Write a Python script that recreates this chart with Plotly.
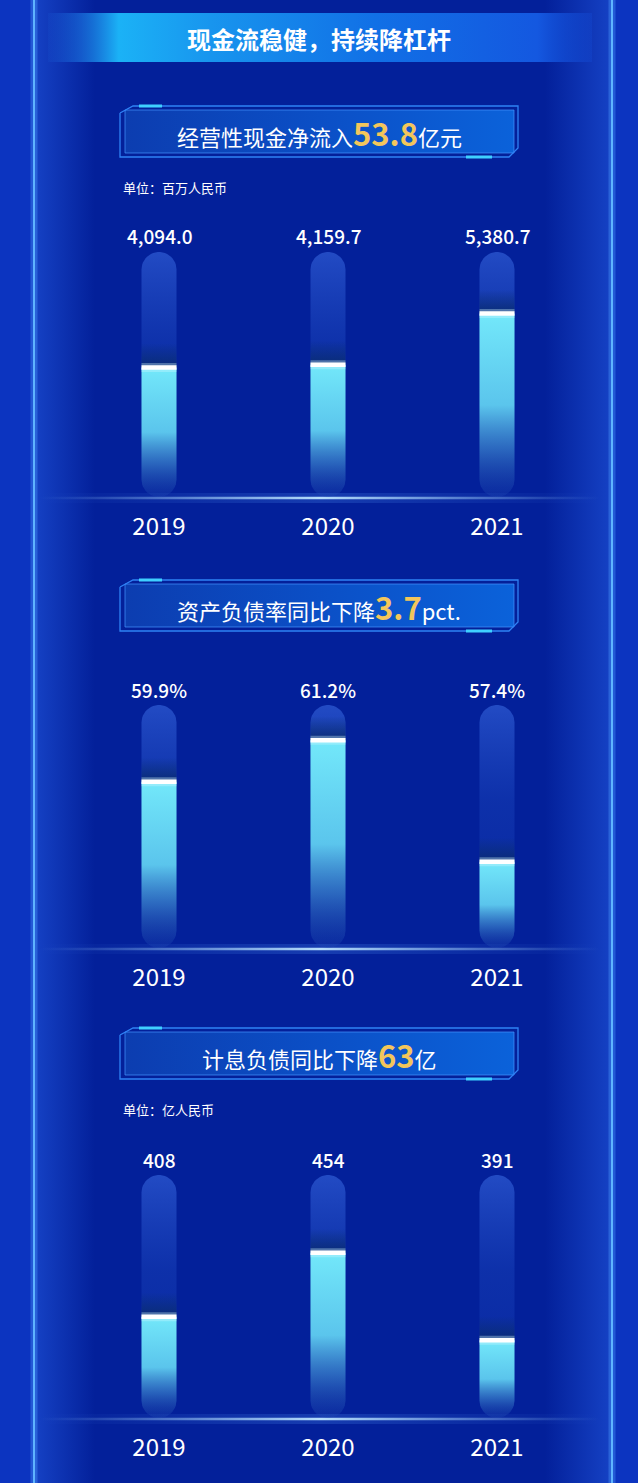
import numpy as np
import plotly.graph_objects as go

W, H = 638, 1483
FONT = "Noto Sans CJK SC"

# ---- data ----
years = ["2019", "2020", "2021"]
cash_flow = [4094.0, 4159.7, 5380.7]      # 百万人民币
debt_ratio = [59.9, 61.2, 57.4]           # %
interest_debt = [408, 454, 391]           # 亿人民币

title_text = "现金流稳健，持续降杠杆"
head_pre = ["经营性现金净流入", "资产负债率同比下降", "计息负债同比下降"]
head_num = ["53.8", "3.7", "63"]
head_post = ["亿元", "pct.", "亿"]
unit_text = ["单位：百万人民币", None, "单位：亿人民币"]

# ---- layout (pixels from top) ----
BAR_X0, BAR_STEP, BAR_HW = 159, 169, 17.5
bar_top = [252, 705, 1175]
bar_bot = [497, 948, 1418]
head_top = [106, 580, 1028]
head_bot = [157, 631, 1079]
unit_y = [187, None, 1109]
y_ranges = [(1000, 6850), (54.7, 62.3), (335, 510)]

GOLD = "#f3c65b"
CYAN = "rgb(115,232,250)"

fig = go.Figure()


def deco(xs, ys, colors=None, fill=None, line=None, orient="horizontal"):
    # decoration polygon on the full-page pixel axis
    kw = dict(x=xs, y=ys, mode="lines", hoverinfo="skip", showlegend=False,
              xaxis="x", yaxis="y")
    if colors is not None or fill is not None:
        kw["fill"] = "toself"
    if colors is not None:
        kw["fillgradient"] = dict(type=orient, colorscale=colors)
    if fill is not None:
        kw["fillcolor"] = fill
    kw["line"] = line if line else dict(width=0)
    fig.add_trace(go.Scatter(**kw))


def rect(x0, x1, y0, y1):
    return [x0, x1, x1, x0, x0], [y0, y0, y1, y1, y0]


# page side strips and frame glow
xs, ys = rect(0, 34, 0, H)
deco(xs, ys, fill="rgb(12,52,192)")
xs, ys = rect(612, W, 0, H)
deco(xs, ys, fill="rgb(12,52,192)")
xs, ys = rect(34, 95, 0, H)
deco(xs, ys, colors=[[0, "rgba(40,100,240,0.5)"], [1, "rgba(40,100,240,0)"]])
xs, ys = rect(545, 612, 0, H)
deco(xs, ys, colors=[[0, "rgba(40,100,240,0)"], [1, "rgba(40,100,240,0.5)"]])
for fx in (34, 612):
    deco([fx, fx], [0, H], line=dict(color="rgba(80,160,255,0.35)", width=7))
    deco([fx, fx], [0, H], line=dict(color="#5fb4ff", width=2))

# top banner
xs, ys = rect(48, 592, 13, 62)
deco(xs, ys, colors=[[0, "rgba(30,110,230,0.1)"], [0.06, "rgba(30,130,235,0.55)"],
                     [0.13, "#1bb2f6"], [0.3, "#1895ee"], [0.6, "#1170e6"],
                     [0.9, "#1458e0"], [1, "rgba(22,86,230,0.2)"]])

# header boxes
for k in range(3):
    t, b = head_top[k], head_bot[k]
    xs, ys = rect(125, 514, t + 4, b - 4)
    deco(xs, ys, colors=[[0, "#0c3db0"], [0.5, "#0b4fc6"], [1, "#0b62da"]],
         line=dict(color="rgba(70,150,255,0.7)", width=1))
    deco([120, 133, 518, 518, 509, 120, 120], [t + 7, t, t, b - 9, b, b, t + 7],
         line=dict(color="#2f82f5", width=1.3))
    deco([139, 162], [t, t], line=dict(color="#3fd0ff", width=3))
    deco([466, 492], [b, b], line=dict(color="#3fd0ff", width=3))

# baseline glows
for k in range(3):
    yb = bar_bot[k] + 1
    xs, ys = rect(40, 600, yb - 5, yb + 5)
    deco(xs, ys, colors=[[0, "rgba(90,160,255,0)"], [0.5, "rgba(90,160,255,0.22)"],
                         [1, "rgba(90,160,255,0)"]])
    xs, ys = rect(40, 600, yb - 1.2, yb + 1.2)
    deco(xs, ys, colors=[[0, "rgba(150,205,255,0)"], [0.5, "rgba(190,230,255,0.95)"],
                         [1, "rgba(150,205,255,0)"]])


def capsule(xc, y0, y1, rx, ry, top=True, bottom=True):
    a = np.linspace(0, np.pi, 24)
    px, py = [], []
    if top:
        px += list(xc + rx * np.cos(a))
        py += list(y1 - ry + ry * np.sin(a))
    else:
        px += [xc + rx, xc - rx]
        py += [y1, y1]
    if bottom:
        px += list(xc - rx * np.cos(a))
        py += list(y0 + ry - ry * np.sin(a))
    else:
        px += [xc - rx, xc + rx]
        py += [y0, y0]
    px.append(px[0])
    py.append(py[0])
    return px, py


panels = [
    (cash_flow, [f"{v:,.1f}" for v in cash_flow]),
    (debt_ratio, [f"{v:.1f}%" for v in debt_ratio]),
    (interest_debt, [f"{v}" for v in interest_debt]),
]

annotations = []
for k, (vals, labels) in enumerate(panels):
    ax = k + 2
    xa, ya = f"x{ax}", f"y{ax}"
    lo, hi = y_ranges[k]
    upp = (hi - lo) / (bar_bot[k] - bar_top[k])   # data units per pixel
    rx = BAR_HW / BAR_STEP
    ry = BAR_HW * upp
    for i, v in enumerate(vals):
        # track
        px, py = capsule(i, lo, hi, rx, ry)
        fig.add_trace(go.Scatter(x=px, y=py, fill="toself", mode="lines", line=dict(width=0),
                                 fillgradient=dict(type="vertical", colorscale=[
                                     [0, "rgba(40,90,210,0.10)"], [0.6, "rgba(40,90,210,0.28)"],
                                     [1, "rgba(60,110,230,0.55)"]]),
                                 xaxis=xa, yaxis=ya, hoverinfo="skip", showlegend=False))
        # shadow above the level
        px, py = rect(i - rx, i + rx, v, v + 24 * upp)
        fig.add_trace(go.Scatter(x=px, y=py, fill="toself", mode="lines", line=dict(width=0),
                                 fillgradient=dict(type="vertical", colorscale=[
                                     [0, "rgba(10,45,115,0.95)"], [1, "rgba(10,45,115,0)"]]),
                                 xaxis=xa, yaxis=ya, hoverinfo="skip", showlegend=False))
        # level fill
        px, py = capsule(i, lo, v, rx, ry, top=False)
        fig.add_trace(go.Scatter(x=px, y=py, fill="toself", mode="lines", line=dict(width=0),
                                 fillgradient=dict(type="vertical", colorscale=[
                                     [0, "rgba(30,70,165,0.15)"], [0.25, "rgba(55,125,200,0.7)"],
                                     [0.5, "rgba(95,205,240,0.95)"], [1, CYAN]]),
                                 xaxis=xa, yaxis=ya, hoverinfo="skip", showlegend=False))
        # bright level line
        fig.add_trace(go.Scatter(x=[i - rx, i + rx], y=[v, v], mode="lines",
                                 line=dict(color="rgba(210,245,255,0.35)", width=9),
                                 xaxis=xa, yaxis=ya, hoverinfo="skip", showlegend=False))
        fig.add_trace(go.Scatter(x=[i - rx, i + rx], y=[v, v], mode="lines",
                                 line=dict(color="white", width=4.5),
                                 xaxis=xa, yaxis=ya, hoverinfo="skip", showlegend=False))
        annotations.append(dict(x=i, y=hi, xref=xa, yref=ya, text=labels[i], showarrow=False,
                                xanchor="center", yanchor="middle", yshift=16,
                                font=dict(family=FONT, size=19, weight=500, color="white")))

    fig.layout[f"xaxis{ax}"] = dict(domain=[0, 1], anchor=ya,
                                    range=[-BAR_X0 / BAR_STEP, (W - BAR_X0) / BAR_STEP],
                                    tickvals=[0, 1, 2], ticktext=years, showgrid=False,
                                    zeroline=False, showline=False, ticks="",
                                    ticklabelstandoff=13, fixedrange=True,
                                    tickfont=dict(family=FONT, size=24, color="white"))
    fig.layout[f"yaxis{ax}"] = dict(domain=[1 - bar_bot[k] / H, 1 - bar_top[k] / H],
                                    anchor=xa, range=[lo, hi], visible=False, fixedrange=True)

    # header text
    yc = (head_top[k] + head_bot[k]) / 2 + 1
    annotations.append(dict(
        x=0.5, y=1 - yc / H, xref="paper", yref="paper", showarrow=False,
        xanchor="center", yanchor="middle",
        text=f"{head_pre[k]}<span style='font-size:31px;color:{GOLD}'><b>{head_num[k]}</b></span>{head_post[k]}",
        font=dict(family=FONT, size=22, color="white")))
    if unit_text[k]:
        annotations.append(dict(x=121 / W, y=1 - unit_y[k] / H, xref="paper", yref="paper",
                                xanchor="left", yanchor="middle", showarrow=False,
                                text=unit_text[k],
                                font=dict(family=FONT, size=13, color="white")))

annotations.append(dict(x=0.5, y=1 - 38 / H, xref="paper", yref="paper", showarrow=False,
                        xanchor="center", yanchor="middle",
                        text=f"<b>{title_text}</b>",
                        font=dict(family=FONT, size=24, color="white")))

fig.update_layout(
    width=W, height=H,
    margin=dict(l=0, r=0, t=0, b=0),
    paper_bgcolor="#03209a",
    plot_bgcolor="rgba(0,0,0,0)",
    showlegend=False,
    xaxis=dict(domain=[0, 1], range=[0, W], visible=False, fixedrange=True),
    yaxis=dict(domain=[0, 1], range=[H, 0], visible=False, fixedrange=True),
    annotations=annotations,
)

fig.write_html("out.html", config={"displayModeBar": False},
               post_script="document.body.style.margin='0px';")
